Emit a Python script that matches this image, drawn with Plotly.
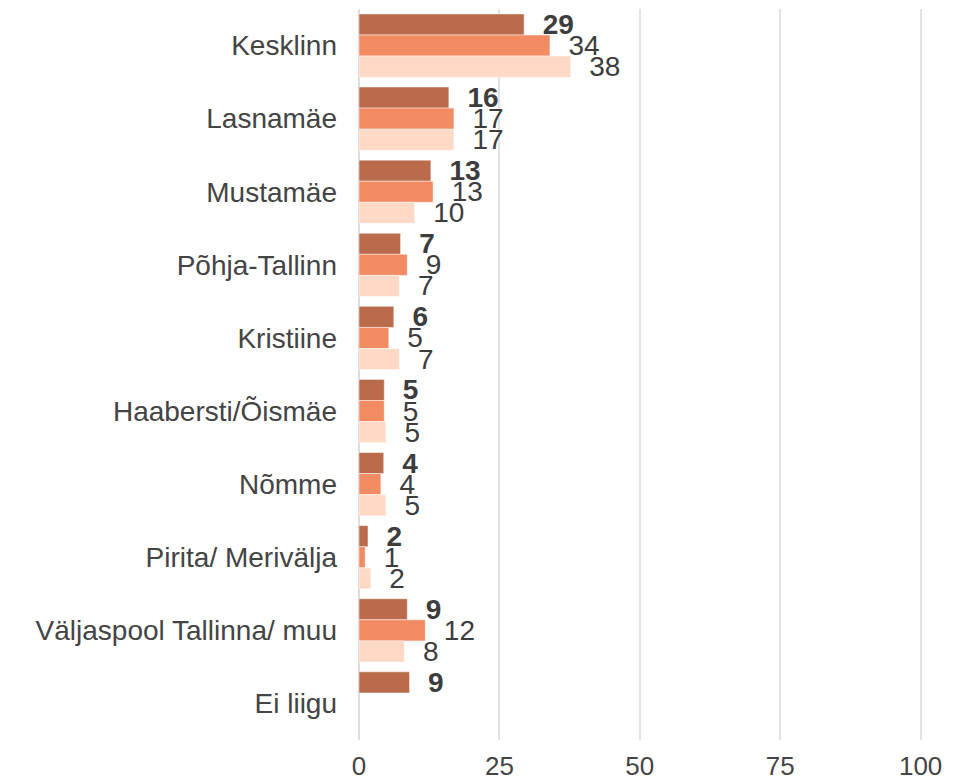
import plotly.graph_objects as go

categories = ["Kesklinn", "Lasnamäe", "Mustamäe", "Põhja-Tallinn", "Kristiine",
              "Haabersti/Õismäe", "Nõmme", "Pirita/ Merivälja",
              "Väljaspool Tallinna/ muu", "Ei liigu"]
series1 = [29.4, 16.0, 12.8, 7.4, 6.2, 4.5, 4.4, 1.6, 8.6, 9.0]
series2 = [34.0, 16.9, 13.2, 8.6, 5.3, 4.5, 3.9, 1.1, 11.8, None]
series3 = [37.7, 16.9, 9.9, 7.2, 7.2, 4.8, 4.8, 2.1, 8.1, None]
colors = ["#B96B4B", "#F28B62", "#FED9C5"]
x_ticks = [0, 25, 50, 75, 100]

def labels(vals):
    return ["" if v is None else "\u00a0\u00a0" + str(int(v + 0.5)) for v in vals]

fig = go.Figure()
for i, vals in enumerate([series1, series2, series3]):
    fig.add_trace(go.Bar(
        y=categories, x=vals, orientation="h",
        marker=dict(color=colors[i], line=dict(color="rgba(255,255,255,0.6)", width=0.8)),
        text=labels(vals), textposition="outside", constraintext="none",
        cliponaxis=False,
        textfont=dict(family="Liberation Sans, Arial, sans-serif", size=28, color="#3d3d3d",
                      weight="bold" if i == 0 else "normal"),
        showlegend=False,
    ))

fig.update_layout(
    barmode="group", bargap=0.135, bargroupgap=0,
    width=962, height=777,
    margin=dict(l=359, r=38, t=9, b=37),
    paper_bgcolor="white", plot_bgcolor="white",
    font=dict(family="Liberation Sans, Arial, sans-serif", size=28, color="#444444"),
    xaxis=dict(range=[0, 100.6], tickvals=x_ticks, showgrid=True, gridcolor="#E3E3E3",
               gridwidth=1.5, zeroline=True, zerolinecolor="#DDDDDD", zerolinewidth=1.5,
               showline=False, ticklabelstandoff=8, automargin=False,
               tickfont=dict(size=26, color="#444444")),
    yaxis=dict(autorange="reversed", showgrid=False, showline=False, ticklabelstandoff=21,
               automargin=False, tickfont=dict(size=28, color="#444444")),
)

fig.write_html("out.html", config={"displayModeBar": False},
               post_script="document.body.style.margin='0';document.body.style.overflow='hidden';")
